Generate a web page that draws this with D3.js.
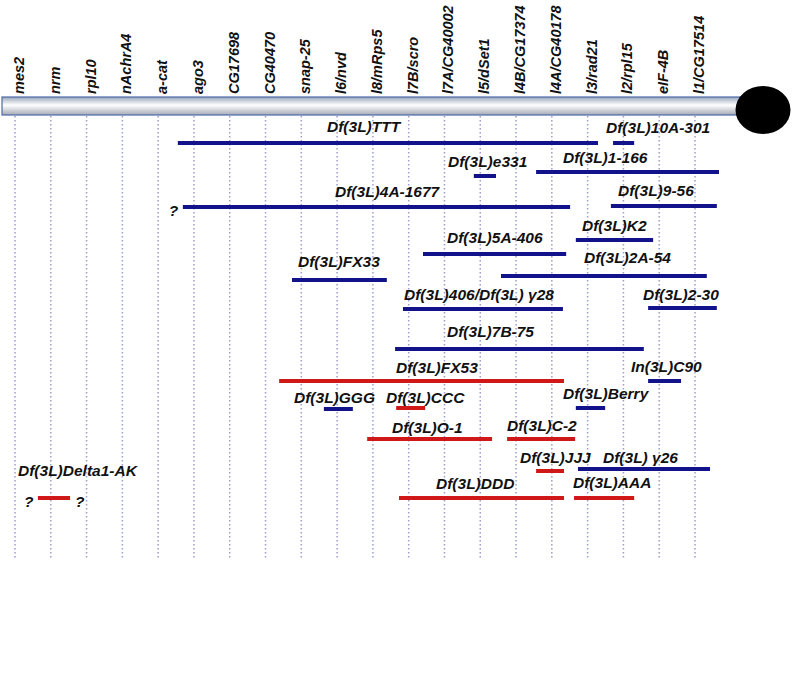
<!DOCTYPE html>
<html><head><meta charset="utf-8">
<script src="https://cdn.jsdelivr.net/npm/d3@7"></script>
<style>body{margin:0;background:#fff}svg{display:block}text{font-family:"Liberation Sans",Arial,sans-serif;font-weight:bold;font-style:italic;fill:#111}</style>
</head><body><svg id="c" width="792" height="681"></svg>
<script>
// Genes along chromosome arm 3L (map order)
const genes = ["mes2","nrm","rpl10","nAchrA4","a-cat","ago3","CG17698","CG40470","snap-25","l6/nvd","l8/mRps5","l7B/scro","l7A/CG40002","l5/dSet1","l4B/CG17374","l4A/CG40178","l3/rad21","l2/rpl15","eIF-4B","l1/CG17514"];

// Deficiencies: name, start and end in gene-map units, type
const dfNames = ["Df(3L)TTT","Df(3L)10A-301","Df(3L)e331","Df(3L)1-166","Df(3L)4A-1677","Df(3L)9-56","Df(3L)K2","Df(3L)5A-406","Df(3L)FX33","Df(3L)2A-54","Df(3L)406/Df(3L) \u03b328","Df(3L)2-30","Df(3L)7B-75","Df(3L)FX53","In(3L)C90","Df(3L)GGG","Df(3L)CCC","Df(3L)Berry","Df(3L)O-1","Df(3L)C-2","Df(3L)JJJ","Df(3L) \u03b326","Df(3L)DDD","Df(3L)AAA","Df(3L)Delta1-AK"];
const dfStart = [4.55,16.71,12.82,14.56,4.69,16.65,15.67,11.40,7.74,13.58,10.84,17.69,10.62,7.38,17.69,8.63,10.65,15.67,9.84,13.75,14.56,15.73,10.73,15.62,0.64];
const dfEnd   = [16.29,17.30,13.44,19.67,15.51,19.61,17.83,15.40,10.39,19.33,15.31,19.61,17.57,15.34,18.61,9.44,11.46,16.49,13.33,15.65,15.34,19.42,15.34,17.30,1.54];
const dfType  = ["old","old","old","old","old","old","old","old","old","old","old","old","old","new","old","old","new","old","new","new","new","old","new","new","new"];
const dfUnknownLeft  = [4];
const dfUnknownBoth  = [24];

// Layout (pixels): line y, label x, label baseline y
const lineY  = [143,143,176,172,207,206,240,254,280,276,309,308,349,381,381,409,408,408,439,439,471,469,498,498,498];
const labelX = [327,606,448,563,335,618,582,447,298,584,404,643,447,396,631,294,386,563,392,507,520,603,436,573,18];
const labelY = [132,133,167,163,197,196,231,243,267,263,300,300,337,373,372,403,403,399,433,431,463,463,489,488,476];

const svg = d3.select("#c");
const x = d3.scaleLinear().domain([0, genes.length - 1]).range([15, 695]);
const color = d3.scaleOrdinal().domain(["old","new"]).range(["#12128a","#d01818"]);

// gradient for chromosome bar
const defs = svg.append("defs");
const g = defs.append("linearGradient").attr("id","bar").attr("x1",0).attr("y1",0).attr("x2",0).attr("y2",1);
g.append("stop").attr("offset","0%").attr("stop-color","#9aa6bc");
g.append("stop").attr("offset","45%").attr("stop-color","#ffffff");
g.append("stop").attr("offset","100%").attr("stop-color","#a3a9b5");

// dotted gene lines
svg.append("g").selectAll("line").data(genes).join("line")
  .attr("x1", (d,i) => x(i)).attr("x2", (d,i) => x(i))
  .attr("y1", 116).attr("y2", 558)
  .attr("stroke", "#9c9cd0").attr("stroke-width", 1.5).attr("stroke-dasharray", "1.5,2.5");

// chromosome bar
svg.append("rect").attr("x", 2).attr("y", 97).attr("width", 738).attr("height", 18)
  .attr("fill", "url(#bar)").attr("stroke", "#4d6aa8").attr("stroke-width", 1.2);
svg.append("ellipse").attr("cx", 763).attr("cy", 110).attr("rx", 27.5).attr("ry", 24).attr("fill", "#000");

// gene labels
svg.append("g").selectAll("text").data(genes).join("text")
  .attr("transform", (d,i) => `translate(${x(i) + 9},94) rotate(-90)`)
  .attr("font-size", 14.5).text(d => d);

// deficiency lines
const idx = d3.range(dfNames.length);
svg.append("g").selectAll("line").data(idx).join("line")
  .attr("x1", i => x(dfStart[i])).attr("x2", i => x(dfEnd[i]))
  .attr("y1", i => lineY[i]).attr("y2", i => lineY[i])
  .attr("stroke", i => color(dfType[i])).attr("stroke-width", 4);

// deficiency labels
svg.append("g").selectAll("text").data(idx).join("text")
  .attr("x", i => labelX[i]).attr("y", i => labelY[i])
  .attr("font-size", 15.5).text(i => dfNames[i]);

// unknown breakpoints
dfUnknownLeft.concat(dfUnknownBoth).forEach(i => {
  svg.append("text").attr("x", x(dfStart[i]) - 14).attr("y", lineY[i] + 9).attr("font-size", 15.5).text("?");
});
dfUnknownBoth.forEach(i => {
  svg.append("text").attr("x", x(dfEnd[i]) + 5).attr("y", lineY[i] + 9).attr("font-size", 15.5).text("?");
});
</script></body></html>
